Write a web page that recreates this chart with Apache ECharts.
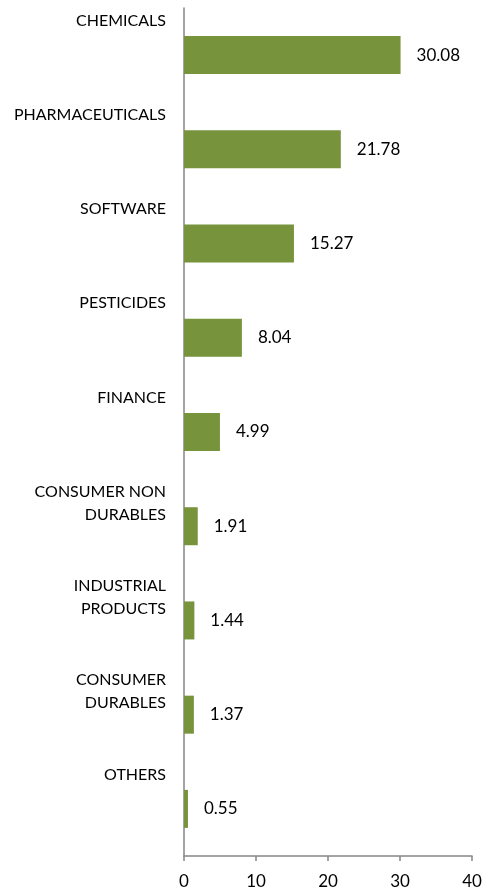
<!DOCTYPE html>
<html><head><meta charset="utf-8">
<script src="https://cdn.jsdelivr.net/npm/echarts@6/dist/echarts.min.js"></script>
<style>html,body{margin:0;padding:0;background:#fff}#c{width:495px;height:890px}</style>
</head><body><div id="c"></div>
<script>
const categories = ["CHEMICALS","PHARMACEUTICALS","SOFTWARE","PESTICIDES","FINANCE","CONSUMER NON\nDURABLES","INDUSTRIAL\nPRODUCTS","CONSUMER\nDURABLES","OTHERS"];
const values = [30.08, 21.78, 15.27, 8.04, 4.99, 1.91, 1.44, 1.37, 0.55];
const xTicks = [0, 10, 20, 30, 40];

const FONT = 'Lato';
const chart = echarts.init(document.getElementById('c'), null, {renderer: 'canvas'});
chart.setOption({
  animation: false,
  grid: {left: 184, right: 23, top: 8, bottom: 32, containLabel: false},
  xAxis: {
    type: 'value', min: xTicks[0], max: xTicks[xTicks.length - 1], interval: 10,
    splitLine: {show: false},
    axisLine: {show: true, lineStyle: {color: '#868686', width: 1.5}},
    axisTick: {show: true, length: 5, lineStyle: {color: '#868686', width: 1.5}},
    axisLabel: {color: '#000', fontFamily: FONT, fontSize: 17, margin: 17}
  },
  yAxis: {
    type: 'category', data: categories, inverse: true,
    axisLine: {show: true, lineStyle: {color: '#868686', width: 1.5}},
    axisTick: {show: false},
    axisLabel: {
      color: '#000', fontFamily: FONT, fontSize: 16, margin: 18, align: 'right',
      lineHeight: 23, verticalAlign: 'middle',
      formatter: function (v) {
        const n = v.split('\n').length;
        return v + '\n'.repeat(4 - n);
      }
    }
  },
  series: [{
    type: 'bar', data: values, barWidth: 38,
    itemStyle: {color: '#77933C'},
    label: {show: true, position: 'right', distance: 16, color: '#000', fontFamily: FONT, fontSize: 17,
      formatter: function (p) { return p.value.toFixed(2); }}
  }]
});
</script></body></html>
